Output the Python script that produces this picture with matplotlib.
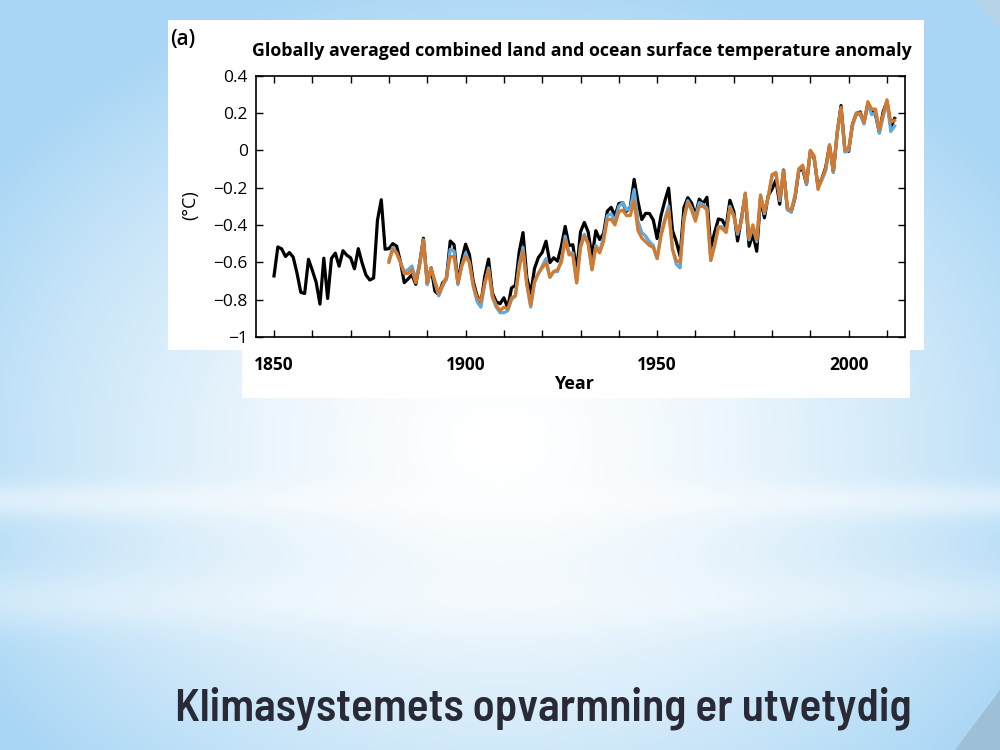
import numpy as np
import matplotlib
matplotlib.use("Agg")
import matplotlib.pyplot as plt
from matplotlib import font_manager as fm
from matplotlib.patches import Rectangle, Polygon

# annual temperature anomaly (degC)
years_black = np.arange(1850, 2013)
black = [
    -0.673, -0.518, -0.528, -0.569, -0.548, -0.572, -0.658, -0.761, -0.767, -0.584,
    -0.643, -0.707, -0.824, -0.578, -0.794, -0.579, -0.551, -0.621, -0.538, -0.562,
    -0.576, -0.635, -0.527, -0.604, -0.668, -0.695, -0.684, -0.375, -0.265, -0.530,
    -0.527, -0.500, -0.513, -0.596, -0.709, -0.689, -0.667, -0.718, -0.607, -0.471,
    -0.716, -0.630, -0.755, -0.773, -0.710, -0.690, -0.486, -0.506, -0.712, -0.589,
    -0.503, -0.559, -0.702, -0.779, -0.820, -0.677, -0.583, -0.765, -0.811, -0.822,
    -0.790, -0.844, -0.737, -0.724, -0.544, -0.441, -0.683, -0.768, -0.633, -0.575,
    -0.547, -0.487, -0.602, -0.576, -0.594, -0.515, -0.408, -0.510, -0.506, -0.650,
    -0.437, -0.387, -0.437, -0.573, -0.431, -0.478, -0.447, -0.326, -0.306, -0.352,
    -0.286, -0.280, -0.327, -0.304, -0.156, -0.275, -0.371, -0.338, -0.339, -0.374,
    -0.473, -0.352, -0.272, -0.203, -0.429, -0.490, -0.567, -0.307, -0.254, -0.283,
    -0.349, -0.262, -0.286, -0.252, -0.523, -0.440, -0.368, -0.374, -0.413, -0.268,
    -0.327, -0.486, -0.365, -0.238, -0.514, -0.449, -0.541, -0.253, -0.362, -0.243,
    -0.208, -0.160, -0.289, -0.106, -0.314, -0.330, -0.255, -0.108, -0.102, -0.182,
    -0.004, -0.046, -0.195, -0.152, -0.092, 0.025, -0.117, 0.090, 0.239, 0.006,
    -0.006, 0.141, 0.196, 0.205, 0.147, 0.245, 0.206, 0.191, 0.095, 0.206,
    0.260, 0.125, 0.170,
]

years_col = np.arange(1880, 2013)
orange = [
    -0.60, -0.53, -0.55, -0.60, -0.66, -0.66, -0.64, -0.71, -0.62, -0.48,
    -0.71, -0.63, -0.70, -0.77, -0.72, -0.68, -0.57, -0.57, -0.71, -0.62,
    -0.57, -0.60, -0.72, -0.79, -0.81, -0.71, -0.64, -0.78, -0.83, -0.86,
    -0.84, -0.85, -0.79, -0.78, -0.63, -0.54, -0.72, -0.83, -0.70, -0.66,
    -0.63, -0.60, -0.68, -0.65, -0.64, -0.60, -0.48, -0.56, -0.56, -0.71,
    -0.52, -0.46, -0.50, -0.64, -0.52, -0.55, -0.49, -0.37, -0.37, -0.40,
    -0.33, -0.32, -0.35, -0.35, -0.27, -0.43, -0.47, -0.49, -0.51, -0.52,
    -0.58, -0.46, -0.38, -0.32, -0.53, -0.59, -0.60, -0.37, -0.28, -0.32,
    -0.38, -0.30, -0.30, -0.32, -0.59, -0.51, -0.41, -0.42, -0.44, -0.31,
    -0.35, -0.44, -0.38, -0.23, -0.47, -0.40, -0.48, -0.24, -0.33, -0.25,
    -0.13, -0.12, -0.26, -0.11, -0.31, -0.32, -0.24, -0.10, -0.08, -0.17,
    0.00, -0.03, -0.21, -0.15, -0.10, 0.03, -0.11, 0.10, 0.23, 0.00,
    0.01, 0.14, 0.20, 0.20, 0.15, 0.26, 0.22, 0.22, 0.11, 0.19,
    0.27, 0.15, 0.16,
]
blue = [
    -0.59, -0.52, -0.55, -0.60, -0.65, -0.64, -0.62, -0.69, -0.61, -0.48,
    -0.72, -0.63, -0.71, -0.78, -0.73, -0.69, -0.53, -0.54, -0.72, -0.62,
    -0.55, -0.60, -0.73, -0.81, -0.84, -0.72, -0.63, -0.79, -0.84, -0.87,
    -0.87, -0.86, -0.80, -0.78, -0.61, -0.52, -0.72, -0.84, -0.71, -0.66,
    -0.62, -0.58, -0.68, -0.65, -0.65, -0.59, -0.46, -0.55, -0.55, -0.71,
    -0.51, -0.45, -0.50, -0.64, -0.51, -0.54, -0.47, -0.35, -0.34, -0.38,
    -0.30, -0.28, -0.32, -0.31, -0.21, -0.38, -0.44, -0.46, -0.49, -0.51,
    -0.58, -0.45, -0.37, -0.30, -0.53, -0.61, -0.63, -0.36, -0.27, -0.31,
    -0.36, -0.28, -0.29, -0.31, -0.59, -0.51, -0.41, -0.41, -0.44, -0.30,
    -0.35, -0.45, -0.38, -0.23, -0.48, -0.41, -0.49, -0.24, -0.34, -0.25,
    -0.14, -0.12, -0.27, -0.11, -0.32, -0.33, -0.25, -0.10, -0.09, -0.18,
    -0.01, -0.04, -0.20, -0.16, -0.11, 0.02, -0.12, 0.09, 0.22, -0.01,
    0.00, 0.13, 0.19, 0.19, 0.14, 0.25, 0.19, 0.20, 0.09, 0.18,
    0.26, 0.10, 0.13,
]

yticks = [-1, -0.8, -0.6, -0.4, -0.2, 0, 0.2, 0.4]
ytick_labels = ["\u22121", "\u22120.8", "\u22120.6", "\u22120.4", "\u22120.2", "0", "0.2", "0.4"]
xticks = [1850, 1900, 1950, 2000]

W, H = 1000, 750
fig = plt.figure(figsize=(10, 7.5), dpi=100)

# slide background: pale blue edges, white centre, light horizontal streaks
bg = fig.add_axes([0, 0, 1, 1], zorder=0)
yy, xx = np.mgrid[0:H, 0:W]
r = np.sqrt(((xx - 500) / 620.0) ** 2 + ((yy - 440) / 470.0) ** 2)
w = np.clip(r, 0, 1) ** 1.5
w = w * (1 - 0.45 * np.exp(-((yy - 500) / 18.0) ** 2) - 0.35 * np.exp(-((yy - 600) / 30.0) ** 2))
w = np.clip(w, 0, 1)
edge = np.array([0.66, 0.84, 0.96])
img = (1 - w[..., None]) * np.array([1.0, 1.0, 1.0]) + w[..., None] * edge
bg.imshow(img, aspect="auto", extent=(0, W, H, 0))
bg.set_xlim(0, W)
bg.set_ylim(H, 0)
bg.axis("off")
# page curls
bg.add_patch(Polygon([(1000, 690), (1000, 750), (955, 750)], closed=True,
                     facecolor="#9dbfd8", edgecolor="none"))
bg.add_patch(Polygon([(1000, 0), (1000, 30), (975, 0)], closed=True,
                     facecolor="#b6d3e8", edgecolor="none"))


def px_rect(x0, y0, x1, y1):
    return Rectangle((x0 / W, 1 - y1 / H), (x1 - x0) / W, (y1 - y0) / H,
                     transform=fig.transFigure, facecolor="white",
                     edgecolor="none", zorder=1)


fig.add_artist(px_rect(168, 20, 924, 350))
fig.add_artist(px_rect(242, 350, 910, 398))

# chart
ax = fig.add_axes([256 / W, 1 - 337 / H, (905 - 256) / W, (337 - 75.5) / H], zorder=2)
ax.plot(years_black, black, color="black", lw=2.3, solid_joinstyle="round")
ax.plot(years_col, blue, color="#5ea9e0", lw=2.3, solid_joinstyle="round")
ax.plot(years_col, orange, color="#d37a2e", lw=2.3, solid_joinstyle="round")

ax.set_xlim(1845.3, 2014.7)
ax.set_ylim(-1, 0.4)
ax.set_xticks(xticks)
ax.set_xticks(np.arange(1850, 2011, 10), minor=True)
ax.set_xticklabels([str(t) for t in xticks], fontsize=12.5, fontweight="bold",
                   family="Open Sans")
ax.set_yticks(yticks)
ax.set_yticklabels(ytick_labels, fontsize=12.5, family="Open Sans")
ax.tick_params(which="both", direction="in", top=True, right=True, width=1.0, length=5)
ax.tick_params(axis="x", which="major", pad=14)
ax.tick_params(axis="y", which="major", pad=6)
for s in ax.spines.values():
    s.set_linewidth(1.2)

fig.text(574 / W, 1 - 384 / H, "Year", ha="center", va="center", fontsize=13,
         fontweight="bold", family="Open Sans", zorder=3)
fig.text(190 / W, 1 - 205 / H, "(\u00b0C)", ha="center", va="center", fontsize=13,
         rotation=90, family="Open Sans", zorder=3)
fig.text(170 / W, 1 - 40 / H, "(a)", ha="left", va="center", fontsize=15,
         fontweight="semibold", family="Open Sans", zorder=3)
title = fig.text(252 / W, 1 - 51 / H,
                 "Globally averaged combined land and ocean surface temperature anomaly",
                 ha="left", va="center", fontsize=12, fontweight="bold",
                 family="Open Sans", zorder=3)

# slide heading: prefer a semi-condensed semibold face if one is installed
heading_prop = fm.FontProperties(family="Open Sans", weight="bold")
best = None
for f in fm.fontManager.ttflist:
    fn = f.fname.lower().replace("-", "").replace("_", "")
    if ("condensed" in fn or "narrow" in fn) and "italic" not in fn:
        score = 0
        if "semibold" in fn:
            score = 3
        elif "bold" in fn and "extra" not in fn:
            score = 2
        elif "medium" in fn:
            score = 1
        if score == 0:
            continue
        if "semicondensed" in fn:
            score += 10
        elif "extracondensed" in fn or "ultracondensed" in fn:
            score -= 10
        if best is None or score > best[0]:
            best = (score, f.fname)
if best is not None:
    heading_prop = fm.FontProperties(fname=best[1])

slide = fig.text(175 / W, 1 - 720 / H, "Klimasystemets opvarmning er utvetydig",
                 ha="left", va="baseline", fontproperties=heading_prop,
                 color="#2a2a36", zorder=3)
slide.set_fontsize(30)

# fit text widths to the reference
fig.canvas.draw()
rend = fig.canvas.get_renderer()
for t, target, cap in [(title, 910 - 252, 20), (slide, 912 - 175, 33)]:
    wd = t.get_window_extent(rend).width
    t.set_fontsize(min(cap, t.get_fontsize() * target / wd))

fig.savefig("out.png", dpi=100)
